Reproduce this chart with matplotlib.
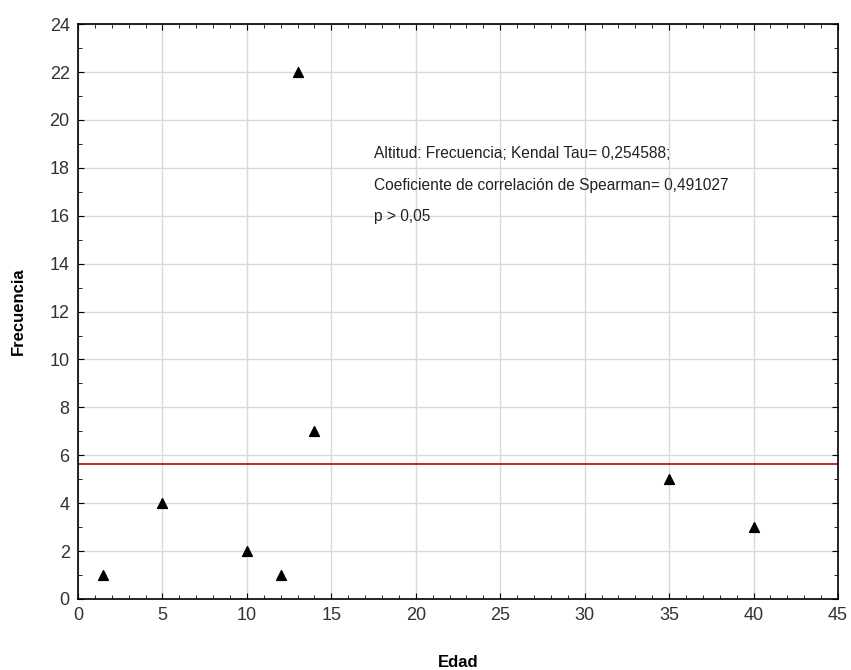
import numpy as np
import matplotlib.pyplot as plt
from matplotlib.ticker import MultipleLocator

plt.rcParams['font.family'] = ['Liberation Sans', 'DejaVu Sans']

# Data
edad = [1.5, 5, 10, 12, 13, 14, 35, 40]
frecuencia = [1, 4, 2, 1, 22, 7, 5, 3]
media = np.mean(frecuencia)

fig = plt.figure(figsize=(8.51, 6.70), dpi=100)
ax = fig.add_axes([0.0917, 0.106, 0.893, 0.858])

ax.grid(True, color='#d9d9d9', linewidth=1)
ax.set_axisbelow(True)

ax.axhline(media, color='#c00000', linewidth=1.2, zorder=2)
ax.scatter(edad, frecuencia, marker='^', s=50, color='black', zorder=3)

ax.set_xlim(0, 45)
ax.set_ylim(0, 24)
ax.xaxis.set_major_locator(MultipleLocator(5))
ax.xaxis.set_minor_locator(MultipleLocator(1))
ax.yaxis.set_major_locator(MultipleLocator(2))
ax.yaxis.set_minor_locator(MultipleLocator(1))
ax.tick_params(which='both', direction='in', top=True, right=True, labelsize=13,
               pad=6, labelcolor='#333333')
ax.tick_params(which='major', length=4)
ax.tick_params(which='minor', length=3)
for s in ax.spines.values():
    s.set_linewidth(1.2)

ax.set_xlabel('Edad', fontsize=12, fontweight='bold', labelpad=22)
ax.set_ylabel('Frecuencia', fontsize=12, fontweight='bold', labelpad=17)

texto = ['Altitud: Frecuencia; Kendal Tau= 0,254588;',
         'Coeficiente de correlación de Spearman= 0,491027',
         'p > 0,05']
for i, t in enumerate(texto):
    ax.text(17.55, 18.6 - i * 1.32, t, fontsize=11.2, va='center', ha='left',
            color='#222222')

fig.savefig('out.png', dpi=100)
